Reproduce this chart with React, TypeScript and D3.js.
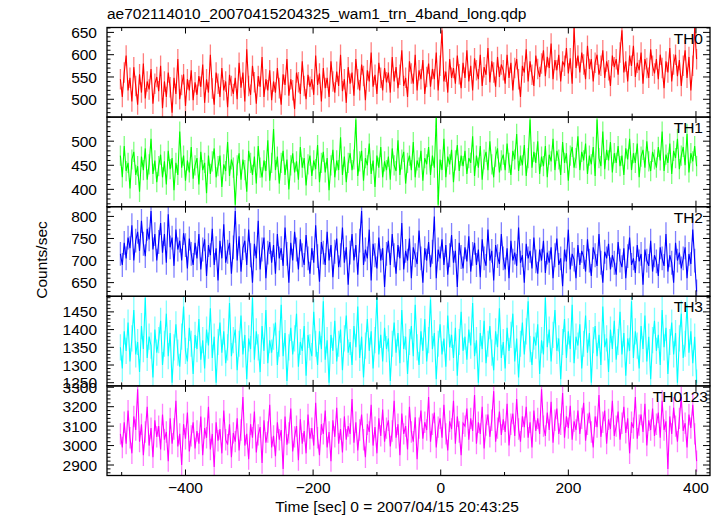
import React from "react";
import * as d3 from "d3";

const TITLE = "ae702114010_20070415204325_wam1_trn_4band_long.qdp";
const X_LABEL = "Time [sec] 0 = 2007/04/15 20:43:25";
const Y_LABEL = "Counts/sec";

// time bins (sec), regular binning
const TIME_START = -502;
const TIME_STEP = 3;
const X_DOMAIN = [-523, 422];
const X_MAJOR_TICKS = [-400, -200, 0, 200, 400];
const X_MINOR_TICKS = [-500, -300, -100, 100, 300];

const PANEL_NAMES = ["TH0", "TH1", "TH2", "TH3", "TH0123"];
const PANEL_COLORS = ["#ff0000", "#00ff00", "#0000ff", "#00ffff", "#ff00ff"];
const Y_DOMAINS = [
  [460, 661],
  [364, 550],
  [619, 822],
  [1241, 1494],
  [2846, 3307],
];
const Y_MAJOR_TICKS = [
  [500, 550, 600, 650],
  [400, 450, 500],
  [650, 700, 750, 800],
  [1250, 1300, 1350, 1400, 1450],
  [2900, 3000, 3100, 3200, 3300],
];
const Y_MINOR_STEP = [10, 10, 10, 10, 20];
const ERRORS = [23, 21, 27, 37, 55];

const TH0 = [
  545, 505, 560, 598, 520, 548, 495, 572, 530, 488, 556, 515, 580, 502, 540, 522, 568, 490, 535, 550,
  518, 575, 480, 540, 505, 560, 527, 470, 548, 512, 590, 500, 532, 556, 485, 545, 520, 565, 498, 538,
  510, 552, 528, 578, 492, 545, 515, 600, 524, 488, 560, 535, 505, 570, 520, 540, 482, 555, 530, 512,
  548, 500, 582, 526, 560, 495, 612, 530, 510, 575, 538, 490, 552, 528, 595, 505, 545, 520, 565, 498,
  540, 515, 570, 525, 488, 556, 532, 590, 508, 545, 520, 478, 560, 538, 512, 585, 530, 500, 555, 528,
  545, 510, 598, 532, 558, 495, 570, 525, 548, 505, 585, 540, 515, 562, 530, 600, 518, 545, 492, 572,
  535, 560, 508, 590, 545, 520, 578, 552, 498, 565, 540, 605, 528, 555, 512, 582, 548, 520, 570, 538,
  560, 515, 595, 540, 572, 525, 555, 610, 530, 548, 505, 585, 558, 535, 600, 520, 565, 545, 588, 512,
  550, 580, 528, 568, 545, 605, 520, 575, 655, 540, 562, 515, 590, 548, 570, 535, 598, 556, 525, 582,
  548, 610, 540, 575, 520, 592, 565, 545, 600, 530, 572, 555, 615, 538, 585, 560, 528, 595, 550, 578,
  565, 535, 600, 548, 582, 520, 570, 590, 545, 505, 575, 560, 612, 540, 585, 555, 530, 598, 568, 550,
  580, 610, 552, 595, 570, 625, 545, 588, 565, 600, 540, 585, 575, 615, 558, 592, 535, 660, 570, 598,
  560, 605, 578, 545, 620, 568, 590, 540, 582, 600, 555, 575, 610, 548, 585, 565, 530, 598, 572, 590,
  555, 605, 655, 560, 585, 540, 598, 575, 620, 550, 582, 565, 605, 535, 590, 570, 548, 612, 575, 558,
  590, 545, 600, 570, 525, 585, 560, 615, 540, 578, 600, 552, 588, 530, 575, 610, 548, 595, 520, 575,
  660, 590,
];

const TH1 = [
  470, 425, 490, 438, 455, 402, 462, 478, 430, 448, 395, 468, 440, 485, 420, 452, 505, 432, 460, 415,
  448, 472, 425, 458, 410, 480, 442, 465, 398, 455, 430, 520, 445, 470, 418, 460, 435, 488, 422, 450,
  465, 410, 478, 440, 455, 392, 470, 432, 458, 485, 425, 448, 470, 405, 452, 438, 498, 428, 462, 445,
  368, 450, 475, 420, 462, 440, 395, 480, 455, 430, 468, 412, 490, 445, 425, 460, 438, 502, 418, 455,
  525, 440, 468, 412, 455, 480, 430, 462, 400, 450, 475, 435, 458, 420, 488, 445, 465, 408, 452, 470,
  428, 460, 442, 492, 415, 455, 478, 435, 465, 398, 450, 482, 425, 460, 440, 508, 430, 468, 415, 455,
  475, 440, 462, 545, 428, 458, 480, 418, 465, 450, 495, 432, 460, 405, 470, 445, 488, 425, 458, 440,
  468, 420, 485, 450, 438, 502, 430, 462, 478, 412, 455, 470, 440, 498, 425, 460, 445, 480, 418, 465,
  452, 488, 430, 470, 445, 550, 368, 462, 440, 505, 425, 468, 452, 482, 415, 460, 492, 438, 470, 448,
  480, 432, 465, 455, 510, 428, 470, 445, 490, 420, 462, 478, 440, 500, 452, 425, 468, 485, 435, 460,
  472, 440, 495, 455, 430, 480, 462, 515, 438, 470, 450, 492, 428, 465, 545, 445, 478, 455, 500, 432,
  468, 448, 490, 425, 472, 458, 505, 440, 480, 462, 430, 498, 455, 475, 418, 470, 488, 445, 465, 510,
  440, 478, 460, 495, 432, 470, 452, 488, 428, 545, 465, 448, 520, 442, 482, 460, 498, 435, 475, 455,
  490, 448, 470, 430, 485, 462, 505, 440, 475, 455, 495, 425, 468, 482, 445, 500, 458, 438, 478, 462,
  445, 488, 460, 520, 438, 472, 455, 495, 432, 480, 465, 505, 442, 470, 488, 450, 515, 435, 475, 458,
  490, 448,
];

const TH2 = [
  715, 690, 740, 705, 752, 728, 780, 700, 745, 765, 722, 790, 738, 710, 772, 748, 812, 725, 760, 700,
  742, 785, 718, 760, 695, 805, 730, 752, 688, 770, 725, 745, 700, 762, 735, 682, 750, 715, 690, 740,
  705, 760, 680, 725, 748, 665, 735, 712, 772, 690, 728, 655, 745, 705, 782, 695, 720, 740, 670, 730,
  812, 700, 755, 675, 728, 745, 690, 770, 712, 650, 738, 705, 790, 680, 725, 752, 660, 718, 742, 695,
  735, 670, 760, 705, 728, 688, 775, 715, 650, 740, 700, 765, 725, 680, 748, 712, 690, 758, 705, 670,
  728, 695, 780, 710, 652, 742, 718, 690, 765, 700, 735, 662, 720, 750, 685, 712, 775, 695, 730, 645,
  718, 760, 700, 735, 668, 745, 812, 690, 725, 705, 770, 655, 738, 712, 682, 752, 700, 728, 640, 715,
  745, 690, 760, 712, 670, 735, 705, 785, 680, 722, 700, 750, 660, 730, 712, 692, 768, 705, 650, 728,
  700, 742, 685, 720, 800, 660, 725, 705, 748, 690, 735, 668, 712, 758, 695, 722, 640, 740, 708, 682,
  730, 698, 755, 675, 715, 740, 690, 725, 662, 748, 705, 688, 770, 700, 722, 655, 735, 710, 692, 760,
  705, 680, 728, 660, 745, 700, 718, 688, 775, 695, 712, 650, 738, 705, 722, 682, 752, 698, 670, 725,
  700, 745, 672, 718, 695, 730, 660, 712, 750, 690, 705, 642, 725, 698, 770, 680, 715, 702, 660, 735,
  690, 722, 708, 675, 748, 700, 665, 730, 712, 688, 760, 695, 650, 720, 705, 738, 680, 712, 695, 668,
  742, 700, 685, 728, 660, 710, 752, 690, 705, 672, 735, 698, 715, 645, 725, 700, 688, 745, 675, 712,
  698, 665, 730, 705, 688, 760, 675, 712, 695, 650, 740, 700, 718, 682, 705, 730, 660, 715, 692, 770,
  700, 630,
];

const TH3 = [
  1350, 1290, 1395, 1340, 1420, 1310, 1375, 1455, 1330, 1365, 1280, 1410, 1345, 1490, 1320, 1380, 1355, 1265, 1400, 1335,
  1370, 1425, 1300, 1360, 1445, 1325, 1390, 1250, 1350, 1415, 1335, 1295, 1380, 1465, 1340, 1310, 1405, 1360, 1275, 1385,
  1345, 1430, 1315, 1370, 1290, 1400, 1355, 1460, 1320, 1380, 1250, 1365, 1420, 1335, 1395, 1305, 1350, 1475, 1325, 1370,
  1400, 1285, 1360, 1440, 1330, 1385, 1260, 1375, 1345, 1490, 1315, 1395, 1350, 1280, 1410, 1340, 1455, 1305, 1370, 1335,
  1380, 1420, 1300, 1360, 1470, 1325, 1390, 1255, 1350, 1405, 1330, 1375, 1445, 1295, 1365, 1340, 1410, 1270, 1385, 1350,
  1325, 1450, 1360, 1300, 1395, 1345, 1480, 1315, 1370, 1250, 1385, 1340, 1425, 1310, 1360, 1400, 1285, 1375, 1440, 1335,
  1365, 1300, 1410, 1350, 1465, 1320, 1380, 1265, 1355, 1430, 1340, 1395, 1290, 1370, 1490, 1330, 1385, 1310, 1405, 1345,
  1375, 1255, 1360, 1420, 1335, 1390, 1305, 1455, 1345, 1380, 1275, 1365, 1410, 1325, 1470, 1350, 1300, 1395, 1340, 1430,
  1310, 1370, 1485, 1345, 1390, 1260, 1360, 1415, 1330, 1375, 1295, 1440, 1350, 1385, 1320, 1405, 1270, 1365, 1450, 1340,
  1380, 1315, 1400, 1355, 1475, 1325, 1370, 1250, 1390, 1345, 1425, 1305, 1360, 1410, 1335, 1285, 1395, 1350, 1460, 1320,
  1365, 1290, 1405, 1340, 1385, 1445, 1310, 1375, 1265, 1360, 1420, 1330, 1395, 1480, 1345, 1300, 1380, 1355, 1415, 1275,
  1370, 1330, 1490, 1350, 1400, 1310, 1385, 1455, 1340, 1375, 1260, 1365, 1430, 1320, 1395, 1345, 1470, 1305, 1380, 1355,
  1415, 1290, 1360, 1440, 1335, 1390, 1250, 1370, 1410, 1325, 1385, 1300, 1465, 1350, 1375, 1280, 1400, 1345, 1425, 1315,
  1365, 1450, 1330, 1390, 1270, 1375, 1340, 1480, 1320, 1395, 1355, 1290, 1410, 1345, 1440, 1310, 1380, 1260, 1370, 1425,
  1340, 1385, 1300, 1455, 1350, 1405, 1275, 1365, 1420, 1330, 1390, 1250, 1375, 1445, 1320, 1360, 1470, 1335, 1395, 1305,
  1380, 1250,
];

const TH0123 = [
  3060, 2990, 3120, 3010, 3180, 3040, 2960, 3150, 3080, 3290, 3020, 3110, 2950, 3070, 3200, 3000, 3090, 2940, 3130, 3045,
  3100, 2980, 3160, 3030, 3070, 2920, 3140, 3010, 3085, 3230, 2995, 3060, 2900, 3110, 3035, 3170, 2970, 3050, 3120, 2985,
  3075, 3010, 3150, 2950, 3090, 3040, 3200, 2980, 3060, 2890, 3120, 3025, 3085, 2960, 3180, 3030, 3005, 3110, 2940, 3065,
  3020, 3140, 2975, 3080, 3250, 3000, 3060, 2930, 3110, 3040, 3175, 2965, 3055, 3095, 2910, 3130, 3015, 3070, 3210, 2990,
  3050, 2945, 3120, 3030, 3080, 2880, 3150, 3005, 3065, 3190, 2970, 3045, 3100, 2925, 3135, 3010, 3075, 2960, 3160, 3035,
  3090, 3000, 3220, 3040, 2950, 3110, 3060, 3180, 2990, 3070, 2920, 3130, 3045, 3195, 3010, 3085, 2965, 3150, 3030, 3100,
  3060, 3240, 3015, 3120, 2975, 3080, 3160, 3030, 2940, 3110, 3070, 3210, 3000, 3095, 2960, 3140, 3050, 3185, 3020, 3090,
  3130, 2995, 3075, 3230, 3040, 3110, 2950, 3165, 3060, 3100, 2980, 3200, 3070, 3020, 3145, 2930, 3090, 3180, 3035, 3120,
  3080, 3250, 3020, 3110, 3170, 2990, 3095, 3140, 3040, 3210, 3060, 2975, 3125, 3085, 3230, 3010, 3150, 3070, 2950, 3115,
  3100, 3190, 3030, 3140, 3075, 3260, 3010, 3120, 3060, 3200, 2985, 3105, 3160, 3045, 3130, 3280, 3020, 3090, 3175, 3055,
  3135, 3070, 3215, 3000, 3110, 3165, 3050, 3240, 3085, 3020, 3150, 3095, 3200, 3040, 3120, 2990, 3180, 3075, 3140, 3060,
  3290, 3100, 3050, 3170, 3080, 3225, 3015, 3130, 3190, 3060, 3110, 3270, 3040, 3150, 3090, 3205, 3030, 3125, 3080, 3180,
  3060, 3140, 3220, 3025, 3110, 3170, 3070, 2990, 3150, 3095, 3260, 3045, 3120, 3180, 3010, 3135, 3085, 3230, 3050, 3100,
  3175, 3030, 3115, 3200, 3065, 3140, 2960, 3120, 3090, 3250, 3035, 3105, 3160, 3070, 3215, 3000, 3130, 3080, 3190, 3050,
  3110, 3170, 3040, 3230, 3080, 3125, 2880, 3150, 3060, 3195, 3100, 3020, 3140, 3250, 3075, 3115, 2990, 3160, 3090, 3210,
  3060, 2920,
];

const SERIES = [TH0, TH1, TH2, TH3, TH0123];

const W = 724;
const H = 516;
const LEFT = 107;
const RIGHT = 710;
const TOP = 27.5;
const BOTTOM = 475.5;
const LABEL_RIGHT = [703, 703, 703, 703, 708];
const FONT = "'Liberation Sans', Arial, Helvetica, sans-serif";
const FS = 15.5;

export default function App() {
  const x = d3.scaleLinear().domain(X_DOMAIN).range([LEFT, RIGHT]);
  const panelH = (BOTTOM - TOP) / SERIES.length;

  return (
    <svg
      width={W}
      height={H}
      style={{ position: "absolute", left: 0, top: 0, background: "#fff" }}
      fontFamily={FONT}
    >
      <rect x={0} y={0} width={W} height={H} fill="#fff" />
      <text x={LEFT} y={19} fontSize={FS} fill="#000">
        {TITLE}
      </text>
      {SERIES.map((vals, p) => {
        const y0 = TOP + p * panelH;
        const y1 = y0 + panelH;
        const y = d3.scaleLinear().domain(Y_DOMAINS[p]).range([y1, y0]);
        const pts = vals.map((v, i) => [TIME_START + i * TIME_STEP, v] as [number, number]);
        const line = d3
          .line<[number, number]>()
          .x((d) => x(d[0]))
          .y((d) => y(d[1]));
        const err = ERRORS[p];
        const minor = d3
          .range(
            Math.ceil(Y_DOMAINS[p][0] / Y_MINOR_STEP[p]) * Y_MINOR_STEP[p],
            Y_DOMAINS[p][1],
            Y_MINOR_STEP[p]
          )
          .filter((t) => !Y_MAJOR_TICKS[p].includes(t));
        const clipId = `clip${p}`;
        return (
          <g key={p}>
            <clipPath id={clipId}>
              <rect x={LEFT} y={y0} width={RIGHT - LEFT} height={panelH} />
            </clipPath>
            <g clipPath={`url(#${clipId})`}>
              <g stroke={PANEL_COLORS[p]} strokeOpacity={0.5} strokeWidth={1.3}>
                {pts.map((d, i) => (
                  <line
                    key={i}
                    x1={x(d[0])}
                    x2={x(d[0])}
                    y1={y(d[1] - err)}
                    y2={y(d[1] + err)}
                  />
                ))}
              </g>
              <path d={line(pts) || ""} fill="none" stroke={PANEL_COLORS[p]} strokeWidth={1.1} />
            </g>
            <g stroke="#000" strokeWidth={1}>
              {Y_MAJOR_TICKS[p].map((t) => (
                <g key={"M" + t}>
                  <line x1={LEFT} x2={LEFT + 7} y1={y(t)} y2={y(t)} />
                  <line x1={RIGHT} x2={RIGHT - 7} y1={y(t)} y2={y(t)} />
                </g>
              ))}
              {minor.map((t) => (
                <g key={"m" + t}>
                  <line x1={LEFT} x2={LEFT + 3.5} y1={y(t)} y2={y(t)} />
                  <line x1={RIGHT} x2={RIGHT - 3.5} y1={y(t)} y2={y(t)} />
                </g>
              ))}
              {X_MAJOR_TICKS.map((t) => (
                <g key={"xM" + t}>
                  <line x1={x(t)} x2={x(t)} y1={y0} y2={y0 + 6} />
                  <line x1={x(t)} x2={x(t)} y1={y1} y2={y1 - 6} />
                </g>
              ))}
              {X_MINOR_TICKS.map((t) => (
                <g key={"xm" + t}>
                  <line x1={x(t)} x2={x(t)} y1={y0} y2={y0 + 3.5} />
                  <line x1={x(t)} x2={x(t)} y1={y1} y2={y1 - 3.5} />
                </g>
              ))}
            </g>
            {Y_MAJOR_TICKS[p].map((t) => (
              <text
                key={"l" + t}
                x={LEFT - 10}
                y={y(t)}
                dy="0.36em"
                textAnchor="end"
                fontSize={FS}
                fill="#000"
              >
                {t}
              </text>
            ))}
            <text x={LABEL_RIGHT[p]} y={y0 + 16} textAnchor="end" fontSize={FS} fill="#000">
              {PANEL_NAMES[p]}
            </text>
            <rect
              x={LEFT}
              y={y0}
              width={RIGHT - LEFT}
              height={panelH}
              fill="none"
              stroke="#000"
              strokeWidth={1.3}
            />
          </g>
        );
      })}
      {X_MAJOR_TICKS.map((t) => (
        <text
          key={"xl" + t}
          x={x(t)}
          y={493}
          textAnchor="middle"
          fontSize={FS}
          fill="#000"
        >
          {t < 0 ? "\u2212" + Math.abs(t) : String(t)}
        </text>
      ))}
      <text x={397} y={512} textAnchor="middle" fontSize={FS} fill="#000">
        {X_LABEL}
      </text>
      <text
        transform={`translate(47, 260) rotate(-90)`}
        textAnchor="middle"
        fontSize={FS}
        fill="#000"
      >
        {Y_LABEL}
      </text>
    </svg>
  );
}
